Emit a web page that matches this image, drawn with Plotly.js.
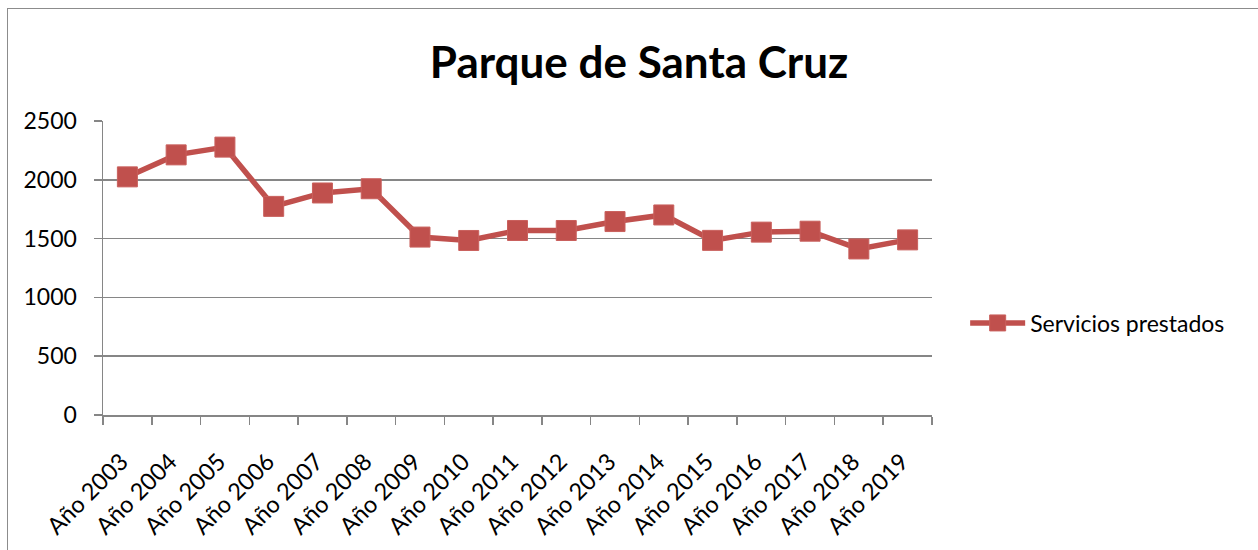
<!DOCTYPE html>
<html>
<head>
<meta charset="utf-8">
<script src="https://cdn.plot.ly/plotly-3.0.1.min.js"></script>
<style>
html,body{margin:0;padding:0;background:#fff;overflow:hidden;}
#chart{position:absolute;left:0;top:0;width:1258px;height:550px;}
#frame{position:absolute;left:7px;top:8px;width:1400px;height:700px;border:1.5px solid #8c8c8c;pointer-events:none;box-sizing:border-box;}
</style>
</head>
<body>
<div id="chart"></div>
<div id="frame"></div>
<script>
const categories = ["Año 2003","Año 2004","Año 2005","Año 2006","Año 2007","Año 2008","Año 2009","Año 2010","Año 2011","Año 2012","Año 2013","Año 2014","Año 2015","Año 2016","Año 2017","Año 2018","Año 2019"];
const serviciosPrestados = [2025,2212,2278,1774,1888,1924,1513,1484,1569,1569,1645,1701,1485,1555,1563,1412,1489];
const seriesName = "Servicios prestados";
const chartTitle = "Parque de Santa Cruz";
const yTicks = [0,500,1000,1500,2000,2500];

const red = "#C0504D";
const gray = "#868686";
const font = "Lato, 'Open Sans', sans-serif";

const trace = {
  x: categories,
  y: serviciosPrestados,
  name: seriesName,
  type: "scatter",
  mode: "lines+markers",
  line: {color: red, width: 5.5},
  marker: {symbol: "square", size: 20, color: red, line: {color: "#c9605d", width: 1}}
};

const layout = {
  width: 1258,
  height: 550,
  margin: {l: 103, r: 326, t: 121, b: 135},
  paper_bgcolor: "#fff",
  plot_bgcolor: "#fff",
  font: {family: font, size: 23, color: "#000"},
  title: {text: chartTitle, font: {family: font, size: 44, color: "#000", weight: "bold"}, x: 0.508, xanchor: "center", y: 0.887, yanchor: "middle"},
  showlegend: true,
  legend: {x: 1.04, xanchor: "left", y: 0.313, yanchor: "middle", itemwidth: 55, font: {family: font, size: 23, color: "#000"}, bgcolor: "rgba(0,0,0,0)"},
  xaxis: {
    type: "category",
    range: [-0.5, 16.5],
    tickson: "boundaries",
    ticks: "outside",
    ticklen: 8,
    tickcolor: gray,
    tickwidth: 1.5,
    showline: true,
    linecolor: gray,
    linewidth: 1.5,
    showgrid: false,
    tickangle: -45,
    ticklabelstandoff: 22,
    ticklabelshift: -6,
    tickfont: {family: font, size: 23.5, color: "#000"},
    fixedrange: true
  },
  yaxis: {
    range: [0, 2500],
    tickvals: yTicks,
    ticks: "outside",
    ticklen: 8,
    tickcolor: gray,
    tickwidth: 1.5,
    showline: true,
    linecolor: gray,
    linewidth: 1.5,
    showgrid: true,
    gridcolor: gray,
    gridwidth: 1.5,
    zeroline: false,
    ticklabelstandoff: 12,
    tickfont: {family: font, size: 23, color: "#000"},
    fixedrange: true
  }
};

Plotly.newPlot("chart", [trace], layout, {displayModeBar: false, staticPlot: true});
</script>
</body>
</html>
